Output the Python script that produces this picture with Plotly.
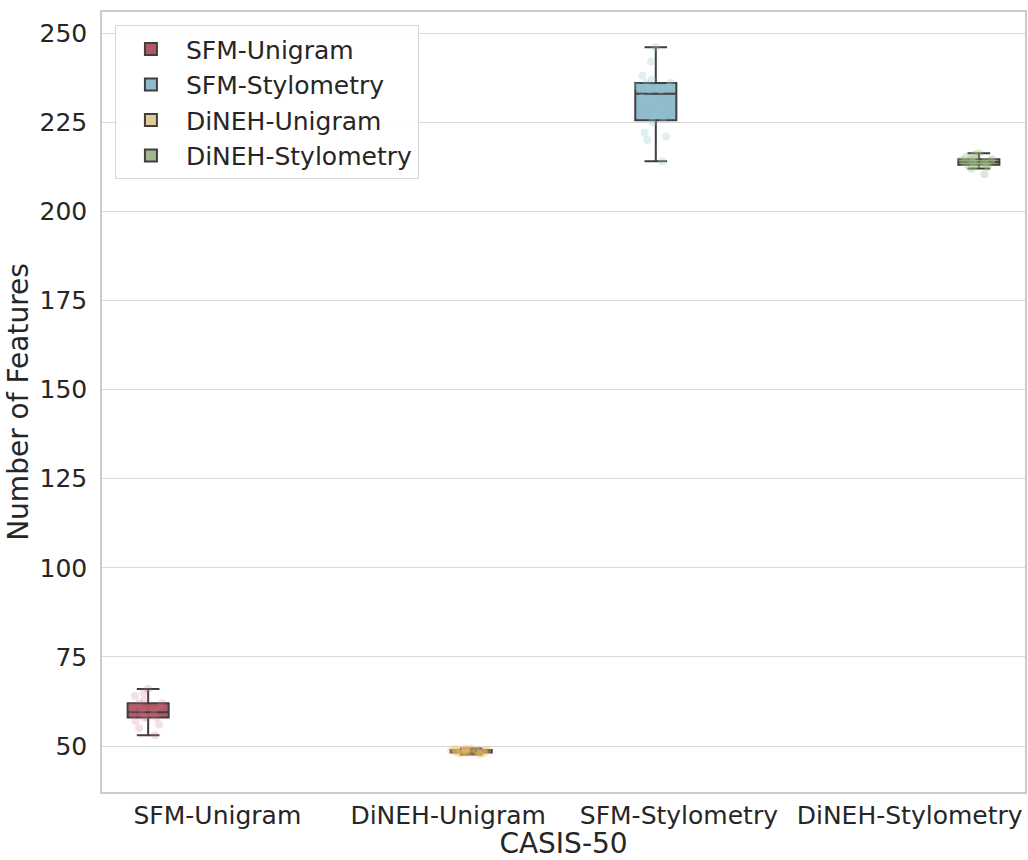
import plotly.graph_objects as go

categories = ["SFM-Unigram", "DiNEH-Unigram", "SFM-Stylometry", "DiNEH-Stylometry"]
series_order = ["SFM-Unigram", "SFM-Stylometry", "DiNEH-Unigram", "DiNEH-Stylometry"]

sfm_unigram = [53, 55, 56, 57, 58, 58, 58, 59, 59, 59, 60, 60, 61, 61, 62, 62, 63, 64, 65, 66]
sfm_stylometry = [214, 220, 221, 222, 225, 226, 227, 229, 231, 232, 234, 234, 235, 235, 236, 236, 237, 238, 242, 246]
dineh_unigram = [47.6, 47.9, 48.0, 48.1, 48.1, 48.2, 48.3, 48.4, 48.5, 48.5, 48.5, 48.6, 48.7, 48.8, 48.8, 48.9, 49.0, 49.1, 49.2, 49.3]
dineh_stylometry = [210.4, 212.0, 212.5, 212.8, 213.0, 213.1, 213.3, 213.5, 213.7, 213.8, 213.8, 214.0, 214.2, 214.4, 214.6, 214.6, 214.9, 215.3, 215.8, 216.3]

values = {
    "SFM-Unigram": sfm_unigram,
    "SFM-Stylometry": sfm_stylometry,
    "DiNEH-Unigram": dineh_unigram,
    "DiNEH-Stylometry": dineh_stylometry,
}
fills = {
    "SFM-Unigram": "#b05a66",
    "SFM-Stylometry": "#8fbccb",
    "DiNEH-Unigram": "#e4c896",
    "DiNEH-Stylometry": "#a0b68c",
}
dots = {
    "SFM-Unigram": "rgba(200,110,130,0.22)",
    "SFM-Stylometry": "rgba(150,200,210,0.30)",
    "DiNEH-Unigram": "rgba(235,190,100,0.35)",
    "DiNEH-Stylometry": "rgba(160,190,130,0.35)",
}

fig = go.Figure()
for name in series_order:
    ys = values[name]
    fig.add_trace(go.Box(
        x=[name] * len(ys), y=ys, name=name,
        fillcolor=fills[name],
        line=dict(color="#3f3f3f", width=2),
        whiskerwidth=0.55,
        boxpoints="all", jitter=1.0, pointpos=0,
        marker=dict(color=dots[name], size=8, line=dict(width=0)),
        quartilemethod="linear",
        hoverinfo="y",
    ))

axis_font = dict(family="DejaVu Sans", size=25, color="#262626")
fig.update_layout(
    width=1028, height=860,
    margin=dict(l=102, r=1, t=12, b=68),
    paper_bgcolor="white", plot_bgcolor="white",
    boxmode="group", boxgap=0.2, boxgroupgap=0.11,
    font=dict(family="DejaVu Sans", size=25, color="#262626"),
    showlegend=True,
    legend=dict(
        x=0.014, y=0.983, xanchor="left", yanchor="top",
        bgcolor="rgba(255,255,255,0.85)", bordercolor="#d6d6d6", borderwidth=1,
        font=dict(family="DejaVu Sans", size=25, color="#262626"),
        itemsizing="constant", tracegroupgap=0, itemwidth=60,
    ),
    xaxis=dict(
        categoryorder="array", categoryarray=categories,
        title=dict(text="CASIS-50", font=dict(size=28), standoff=2),
        tickfont=axis_font, showgrid=False, zeroline=False,
        showline=True, linecolor="#cccccc", linewidth=1.5, mirror=True,
        ticks="", range=[-0.5, 3.5],
    ),
    yaxis=dict(
        title=dict(text="Number of Features", font=dict(size=28), standoff=3),
        tickfont=axis_font, range=[37.1, 255.9],
        tickvals=[50, 75, 100, 125, 150, 175, 200, 225, 250],
        showgrid=True, gridcolor="#d9d9d9", gridwidth=1.2, zeroline=False,
        showline=True, linecolor="#cccccc", linewidth=1.5, mirror=True,
        ticks="", ticklabelstandoff=8,
    ),
)
fig.write_html("out.html")
